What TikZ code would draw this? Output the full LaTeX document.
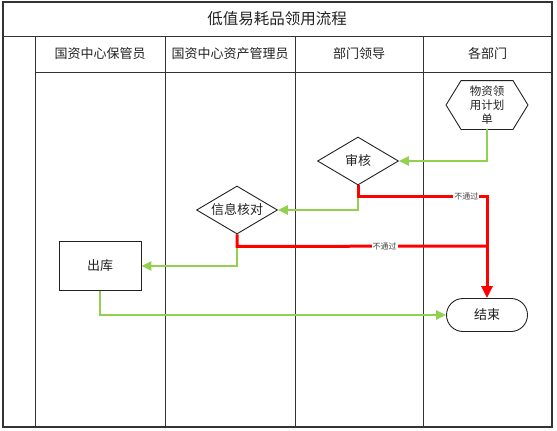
\documentclass[tikz,border=0pt]{standalone}
\usepackage{fontspec}
\setmainfont{Noto Sans CJK SC}
\usetikzlibrary{arrows.meta,positioning,calc,shapes.geometric}
\definecolor{frame}{HTML}{333333}
\definecolor{okgreen}{HTML}{92D050}
\definecolor{nogo}{HTML}{FF0000}
\definecolor{ink}{HTML}{222222}
\definecolor{muted}{HTML}{444444}
\tikzset{okarr/.style={-{Triangle[length=10pt,width=9pt]},line width=2.5pt,draw=okgreen},
  noarr/.style={line width=3pt,draw=nogo},
  notip/.style={-{Triangle[length=12pt,width=11pt]}},
  task/.style={draw=ink,line width=0.9pt,minimum width=82pt,minimum height=49pt,font=\fontsize{13}{15}\selectfont,text=ink},
  check/.style={diamond,draw=ink,line width=0.9pt,minimum width=81pt,minimum height=48pt,aspect=1.7,inner sep=0pt,font=\fontsize{13}{15}\selectfont,text=ink},
  endbox/.style={task,rounded corners=16.5pt,minimum width=81pt,minimum height=33pt},
  lane/.style={draw=frame,line width=1pt},
  lanehead/.style={font=\fontsize{13}{15}\selectfont,text=ink},
  fail/.style={fill=white,inner sep=1pt,font=\fontsize{8}{9}\selectfont,text=muted}}
\begin{document}
\begin{tikzpicture}[x=1pt,y=-1pt]
\useasboundingbox (0,0) rectangle (557,431);
% frame and lanes
\draw[lane,line width=1.6pt] (3,2) rectangle (552,427);
\draw[lane] (3,36) -- (552,36);
\draw[lane] (35,72) -- (552,72);
\node[font=\fontsize{15.5}{18}\selectfont,text=ink] (title) at (277,19) {低值易耗品领用流程};
\foreach \a/\b/\lab in {35/165/国资中心保管员,165/295/国资中心资产管理员,295/423/部门领导,423/552/各部门}{
\draw[lane] (\a,36) -- (\a,427);
\node[lanehead] (h\a) at ({(\a+\b)/2},54) {\lab};
}
% steps
\node[task,draw=none,minimum width=81pt,minimum height=48pt,align=center,font=\fontsize{11.5}{14}\selectfont] (plan) at (487,105) {物资领\\用计划\\单};
\draw[draw=ink,line width=0.9pt] (plan.west) -- ($(plan.north west)+(15,0)$) -- ($(plan.north east)+(-15,0)$) -- (plan.east) -- ($(plan.south east)+(-15,0)$) -- ($(plan.south west)+(15,0)$) -- cycle;
\node[check] (audit) at (358,161) {审核};
\node[check] (verify) at (237,210) {信息核对};
\node[task] (out) at (100,266) {出库};
\node[endbox] (done) at (487,315) {结束};
\coordinate (merge) at (487,246);
% connectors
\draw[okarr] (plan.south) |- (audit.east);
\draw[okarr] (audit.south) |- (verify.east);
\draw[okarr] (verify.south) |- (out.east);
\draw[okarr] (out.south) |- (done.west);
\draw[noarr,notip] (audit.south) -- ++(0,11) -| node[fail,pos=0.42] (f1) {不通过} (done.north);
\draw[noarr] (verify.south) -- ++(0,12) -- node[fail,pos=0.59] (f2) {不通过} (merge);
\end{tikzpicture}
\end{document}
